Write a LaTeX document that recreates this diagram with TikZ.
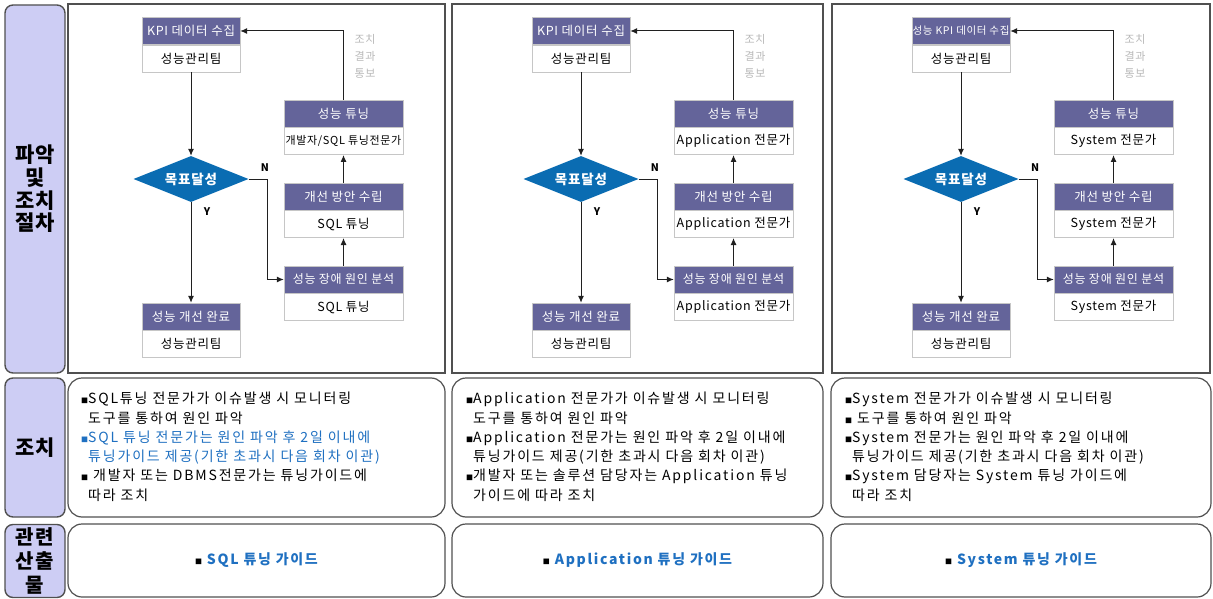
\documentclass[tikz,border=0pt]{standalone}
\usepackage{fontspec}
\setmainfont{Noto Sans CJK KR}[LetterSpace=6]
\usetikzlibrary{positioning,shapes.geometric,arrows.meta}
\definecolor{hdrc}{HTML}{64649A}
\definecolor{diac}{HTML}{0A6CB2}
\definecolor{lavc}{HTML}{CDCDF4}
\definecolor{bluet}{HTML}{1F70C1}
\definecolor{framec}{HTML}{505050}
\newcommand\bul{{\fontsize{7}{7}\selectfont ■}}
\newcommand\actfont{\fontsize{14}{19.3}\selectfont\addfontfeatures{LetterSpace=13}}
\newcommand\flowpanel[6]{%
\begin{scope}[xshift=#1]
\node[hdr, minimum width=98pt] (#2kh) at (191,31) {#3};
\node[bod, minimum width=98pt, anchor=north] (#2kb) at (#2kh.south) {성능관리팀};
\node[dia] (#2d) at (191,179) {목표달성};
\node[hdr, minimum width=98pt] (#2ch) at (191,316.5) {성능 개선 완료};
\node[bod, minimum width=98pt, anchor=north] (#2cb) at (#2ch.south) {성능관리팀};
\node[hdr, minimum width=119pt] (#2th) at (343.5,113.5) {성능 튜닝};
\node[bod, minimum width=119pt, anchor=north] (#2tb) at (#2th.south) {#4};
\node[hdr, minimum width=119pt] (#2ph) at (343.5,196.5) {개선 방안 수립};
\node[bod, minimum width=119pt, anchor=north] (#2pb) at (#2ph.south) {#5};
\node[hdr, minimum width=119pt] (#2ah) at (343.5,279.5) {{\fontsize{12}{12}\selectfont 성능 장애 원인 분석}};
\node[bod, minimum width=119pt, anchor=north] (#2ab) at (#2ah.south) {#6};
\node[note] (#2nt) at (365,56) {조치\\결과\\통보};
\node[yn] (#2n) at (265,168) {N};
\node[yn] (#2y) at (207,212) {Y};
\draw[arr] (#2kb) -- (#2d);
\draw[arr] (#2d) -- (#2ch);
\draw[arr] (#2d.east) -- ++(19,0) |- (#2ah.west);
\draw[arr] (#2ah) -- (#2pb);
\draw[arr] (#2ph) -- (#2tb);
\draw[arr] (#2th.north) |- (#2kh.east);
\end{scope}}
\begin{document}
\begin{tikzpicture}[x=1pt,y=-1pt,
 hdr/.style={draw=gray!45, fill=hdrc, text=white, minimum height=27pt, inner sep=0pt, font=\fontsize{12.5}{13}\selectfont},
 bod/.style={draw=gray!45, line width=0.8pt, fill=white, minimum height=27pt, inner sep=0pt, font=\fontsize{12.5}{13}\selectfont},
 dia/.style={diamond, fill=diac, text=white, minimum width=115pt, minimum height=46pt, aspect=2.5, inner sep=0pt, font=\bfseries\fontsize{13.5}{14}\selectfont},
 note/.style={align=center, text=gray!55, inner sep=0pt, font=\fontsize{11}{17}\selectfont},
 yn/.style={inner sep=0pt, font=\bfseries\fontsize{10.5}{10}\selectfont},
 arr/.style={draw=gray!25!black, line width=1pt, -{Latex[length=7pt,width=6pt]}},
 lab/.style={draw=framec, line width=1.4pt, fill=lavc, rounded corners=8pt, align=center, inner sep=0pt, font=\bfseries\fontsize{21}{22.7}\selectfont},
 frame/.style={draw=framec, line width=1.8pt, inner sep=0pt},
 rbox/.style={draw=framec, line width=1.2pt, rounded corners=14pt, inner sep=0pt, fill=white},
 act/.style={anchor=north west, align=left, inner sep=0pt, font=\actfont},
 outt/.style={inner sep=0pt, text=bluet, font=\bfseries\fontsize{14}{14}\selectfont\addfontfeatures{LetterSpace=12}}
]
\useasboundingbox (0,0) rectangle (1213,599);
\fill[white] (0,0) rectangle (1213,599);

% left labels
\node[lab, minimum width=60pt, minimum height=368pt] (lab1) at (35,189) {파악\\및\\조치\\절차};
\node[lab, minimum width=60pt, minimum height=139pt] (lab2) at (35,447.5) {조치};
\node[lab, minimum width=60pt, minimum height=73pt, font=\bfseries\fontsize{20}{24}\selectfont] (lab3) at (35,561) {관련\\산출\\물};

% top frames
\node[frame, minimum width=377pt, minimum height=369pt] (f1) at (256.5,188.5) {};
\node[frame, minimum width=371pt, minimum height=369pt] (f2) at (637.5,188.5) {};
\node[frame, minimum width=378pt, minimum height=369pt] (f3) at (1021,188.5) {};

% flowcharts
\flowpanel{0pt}{p}{KPI 데이터 수집}{{\fontsize{11}{12}\selectfont 개발자/SQL 튜닝전문가}}{SQL 튜닝}{SQL 튜닝}
\flowpanel{390pt}{q}{KPI 데이터 수집}{Application 전문가}{Application 전문가}{Application 전문가}
\flowpanel{770pt}{r}{{\fontsize{10.5}{12}\selectfont 성능 KPI 데이터 수집}}{System 전문가}{System 전문가}{System 전문가}

% action boxes
\node[rbox, minimum width=377pt, minimum height=139pt] (a1) at (256.5,447.5) {};
\node[rbox, minimum width=371pt, minimum height=139pt] (a2) at (637.5,447.5) {};
\node[rbox, minimum width=380pt, minimum height=139pt] (a3) at (1021,447.5) {};

\node[act] (t1) at (81,392) {\bul SQL튜닝 전문가가 이슈발생 시 모니터링\\
\hphantom{\bul}도구를 통하여 원인 파악\\
\textcolor{bluet}{\bul SQL 튜닝 전문가는 원인 파악 후 2일 이내에}\\
\textcolor{bluet}{\hphantom{\bul}튜닝가이드 제공(기한 초과시 다음 회차 이관)}\\
\bul{} 개발자 또는 DBMS전문가는 튜닝가이드에\\
\hphantom{\bul}따라 조치};

\node[act] (t2) at (466,392) {\bul Application 전문가가 이슈발생 시 모니터링\\
\hphantom{\bul}도구를 통하여 원인 파악\\
\bul Application 전문가는 원인 파악 후 2일 이내에\\
\hphantom{\bul}튜닝가이드 제공(기한 초과시 다음 회차 이관)\\
\bul 개발자 또는 솔루션 담당자는 Application 튜닝\\
\hphantom{\bul}가이드에 따라 조치};

\node[act] (t3) at (845,392) {\bul System 전문가가 이슈발생 시 모니터링\\
\bul{} 도구를 통하여 원인 파악\\
\bul System 전문가는 원인 파악 후 2일 이내에\\
\hphantom{\bul}튜닝가이드 제공(기한 초과시 다음 회차 이관)\\
\bul System 담당자는 System 튜닝 가이드에\\
\hphantom{\bul}따라 조치};

% output boxes
\node[rbox, minimum width=377pt, minimum height=73pt] (o1) at (256.5,560.5) {};
\node[rbox, minimum width=371pt, minimum height=73pt] (o2) at (637.5,560.5) {};
\node[rbox, minimum width=380pt, minimum height=73pt] (o3) at (1021,560.5) {};
\node[outt] (ot1) at (o1) {\textcolor{black}{\bul}~SQL 튜닝 가이드};
\node[outt] (ot2) at (o2) {\textcolor{black}{\bul}~Application 튜닝 가이드};
\node[outt] (ot3) at (o3) {\textcolor{black}{\bul}~System 튜닝 가이드};
\end{tikzpicture}
\end{document}
